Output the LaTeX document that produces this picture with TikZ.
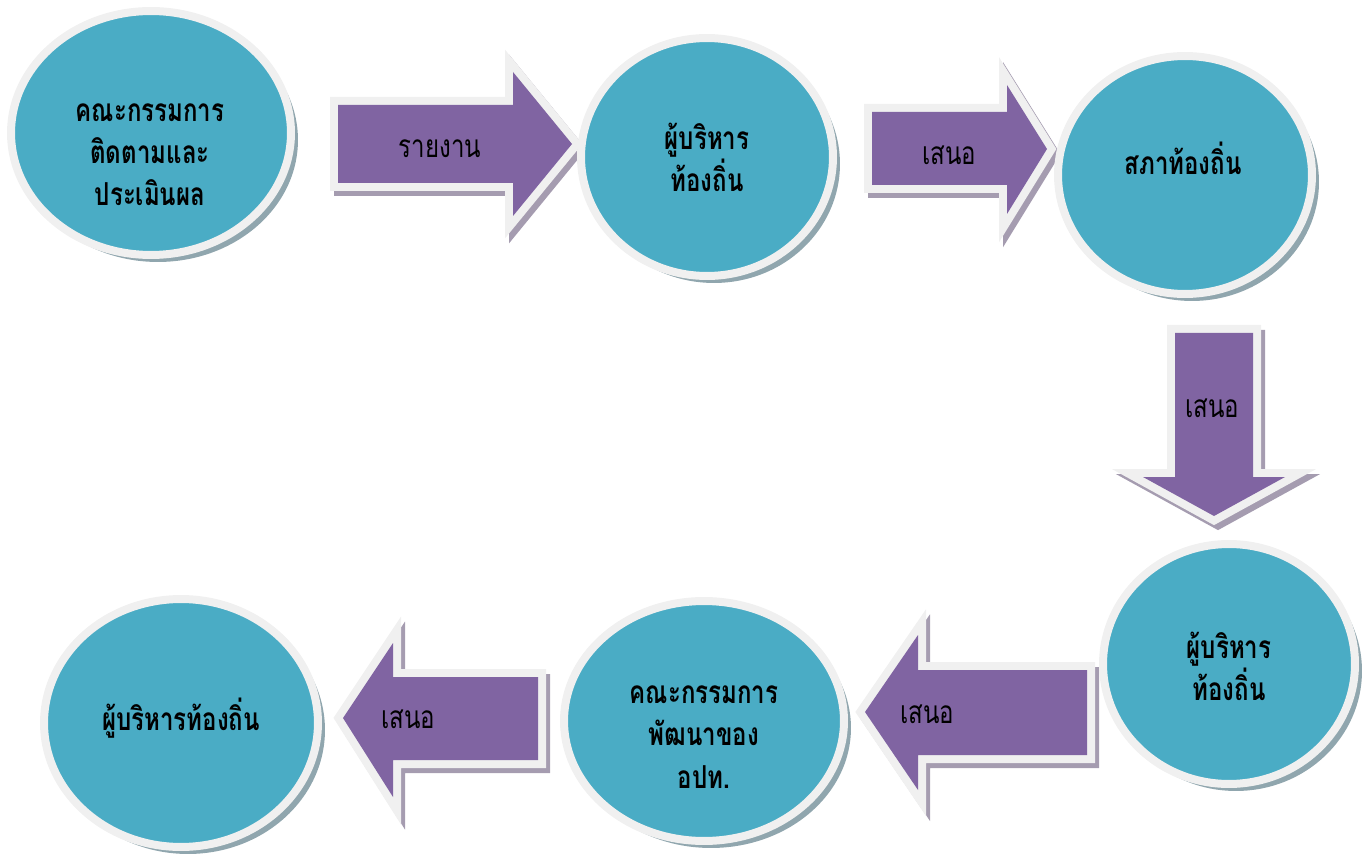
\documentclass[tikz,border=0pt]{standalone}
\usepackage{fontspec}
\setmainfont[Script=Thai, FakeStretch=0.76]{Loma}
\usepackage{tikz}
\usetikzlibrary{shapes.geometric}
\usetikzlibrary{shadows}
\usepackage{xcolor}
\definecolor{tealfill}{HTML}{4AACC5}
\definecolor{arrowfill}{HTML}{8064A2}
\definecolor{rimgray}{HTML}{F0F0F0}
\definecolor{ellshade}{HTML}{90A6AE}
\definecolor{arrshade}{HTML}{A59CB0}

\begin{document}
\begin{tikzpicture}[x=0.02cm, y=-0.02cm,
  bubble/.style={ellipse, fill=tealfill, draw=rimgray, line width=0.16cm, inner sep=0,
    drop shadow={shadow xshift=0.14cm, shadow yshift=-0.14cm, fill=ellshade, opacity=1}},
  bubbletext/.style={align=center, font=\bfseries\fontsize{18}{24}\selectfont},
  arrowtext/.style={font=\fontsize{18}{24}\selectfont},
  arrowrim/.style={draw=rimgray, line width=0.32cm, line join=miter},
  arrowshade/.style={draw=arrshade, fill=arrshade, line width=0.32cm, line join=miter, shift={(4,5)}}]
\useasboundingbox (0,0) rectangle (1368,854);

% block arrows: shadow, rim, fill
\foreach \pts in {
  {(338,105) -- (513,105) -- (513,72) -- (572,144) -- (513,216) -- (513,183) -- (338,183) -- cycle},
  {(872,112) -- (1007,112) -- (1007,85) -- (1047,149) -- (1007,214) -- (1007,185) -- (872,185) -- cycle},
  {(1175,333) -- (1253,333) -- (1253,477) -- (1285,477) -- (1214,516) -- (1143,477) -- (1175,477) -- cycle},
  {(1087,670) -- (918,670) -- (918,635) -- (865,712) -- (918,790) -- (918,755) -- (1087,755) -- cycle},
  {(538,677) -- (393,677) -- (393,643) -- (343,718) -- (393,797) -- (393,760) -- (538,760) -- cycle}}
{
  \draw[arrowshade] \pts;
  \draw[arrowrim] \pts;
  \fill[arrowfill] \pts;
}

\node[arrowtext] (a1) at (440,149) {รายงาน};
\node[arrowtext] (a2) at (949,155) {เสนอ};
\node[arrowtext] (a3) at (1212,408) {เสนอ};
\node[arrowtext] (a4) at (927,714) {เสนอ};
\node[arrowtext] (a5) at (408,719) {เสนอ};

% ellipses
\node[bubble, minimum width=5.6cm, minimum height=4.88cm] (b1) at (151,133) {};
\node[bubble, minimum width=5.04cm, minimum height=4.76cm] (b2) at (707,157) {};
\node[bubble, minimum width=5.08cm, minimum height=4.76cm] (b3) at (1185,175) {};
\node[bubble, minimum width=5.04cm, minimum height=4.8cm] (b4) at (1229,664) {};
\node[bubble, minimum width=5.6cm, minimum height=4.8cm] (b5) at (704,721) {};
\node[bubble, minimum width=5.48cm, minimum height=4.96cm] (b6) at (181,723) {};

\node[bubbletext] (t1) at (150,155) {คณะกรรมการ\\ติดตามและ\\ประเมินผล};
\node[bubbletext] (t2) at (707,157) {ผู้บริหาร\\ท้องถิ่น};
\node[bubbletext] (t3) at (1183,158) {สภาท้องถิ่น};
\node[bubbletext] (t4) at (1229,666) {ผู้บริหาร\\ท้องถิ่น};
\node[bubbletext] (t5) at (704,737) {คณะกรรมการ\\พัฒนาของ\\อปท.};
\node[bubbletext] (t6) at (181,718) {ผู้บริหารท้องถิ่น};

\end{tikzpicture}
\end{document}
